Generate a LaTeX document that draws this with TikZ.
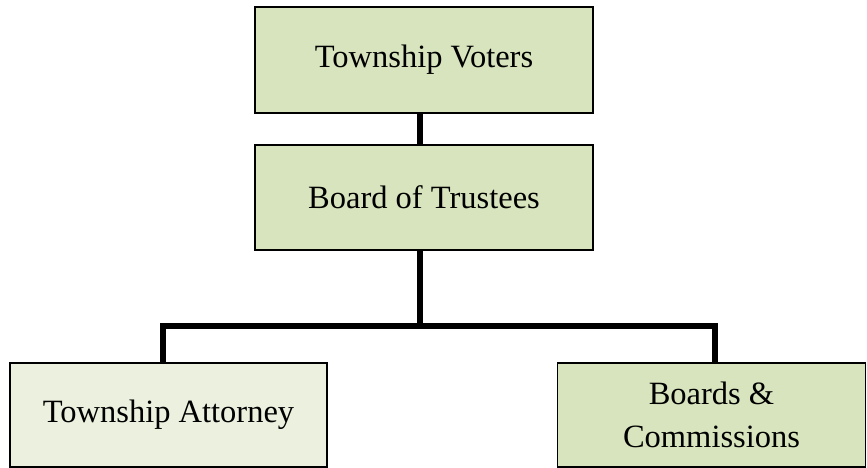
\documentclass[tikz,border=0pt]{standalone}
\usepackage{fontspec}
\setmainfont{Liberation Serif}
\usepackage{tikz}
\usetikzlibrary{calc}
\definecolor{boxgreen}{HTML}{D7E4BD}
\definecolor{palegreen}{HTML}{EBF1DE}
\tikzstyle{office} = [draw, line width=1.5pt, fill=boxgreen, inner sep=0pt,
  align=center, font=\fontsize{32.5}{43}\selectfont]
\tikzstyle{edge} = [draw, line width=5.5pt]

\begin{document}
\begin{tikzpicture}[x=1pt, y=1pt, node distance=137.5pt]
    \useasboundingbox (0,0) rectangle (867,-468);
    \node[office, minimum width=338pt, minimum height=106pt] (voters) at (424,-60) {Township Voters};
    \node[office, minimum width=338pt, minimum height=105pt, below of=voters] (trustees) {Board of Trustees};
    \node[office, fill=palegreen, minimum width=317pt, minimum height=104pt] (attorney) at (168.5,-415) {Township Attorney};
    \node[office, minimum width=308pt, minimum height=104pt] (boards) at (711.5,-415) {Boards \&\\Commissions};
    \coordinate (split) at (420,-326);
    \draw[edge] (voters.south -| split) -- (trustees.north -| split);
    \draw[edge] (trustees.south -| split) -- (split);
    \draw[edge] ([xshift=-5.5pt]attorney.north) |- (split) -| ([xshift=3.5pt]boards.north);
\end{tikzpicture}
\end{document}
